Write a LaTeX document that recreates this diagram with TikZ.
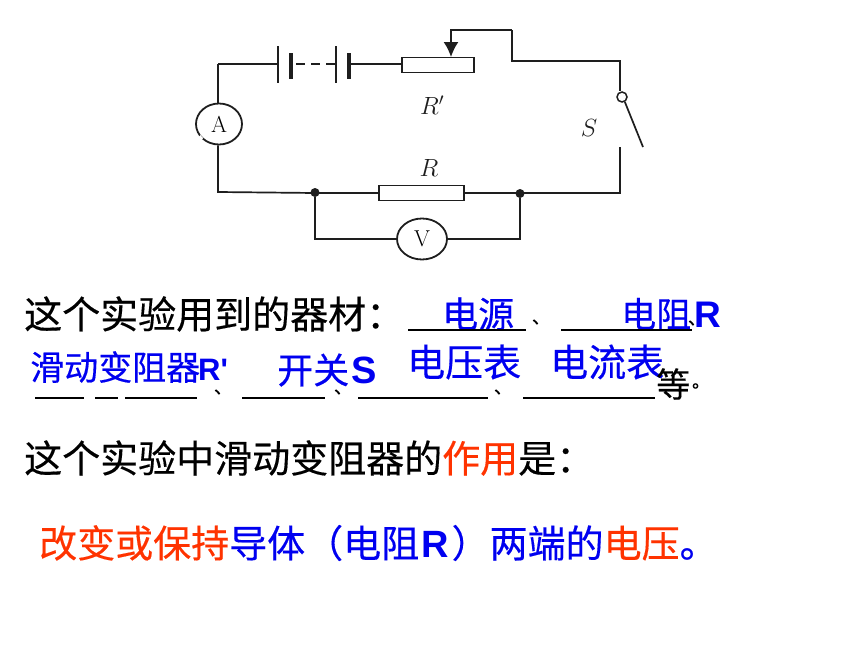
\documentclass[tikz,border=0pt]{standalone}
\usepackage{fontspec}
\newfontfamily\cjk[FakeBold=0.35]{Noto Sans CJK SC}
\newfontfamily\arl{Liberation Sans}
\definecolor{wire}{HTML}{1E1E1E}
\definecolor{bluetxt}{HTML}{0000F0}
\definecolor{redtxt}{HTML}{FF3300}
\newcommand{\fs}[1]{\fontsize{#1}{#1}\selectfont}
\usetikzlibrary{shapes.geometric,arrows.meta}
\tikzset{
  wireline/.style={draw=wire,line width=1.7pt},
  plate/.style={draw=wire,line width=1.4pt},
  thick plate/.style={draw=wire,line width=3.8pt},
  resbox/.style={draw=wire,line width=1.7pt,fill=white,minimum height=15pt,inner sep=0pt},
  meter/.style={draw=wire,line width=1.8pt,fill=white,ellipse,inner sep=0pt,font=\fs{23}},
  junction/.style={circle,fill=wire,draw=none,minimum size=9pt,inner sep=0pt},
  contact/.style={circle,fill=white,draw=wire,line width=1.5pt,minimum size=10pt,inner sep=0pt},
  clabel/.style={inner sep=0pt,font=\fs{26},text=wire},
  blk/.style={inner sep=0pt,anchor=west,font=\cjk\fs{38},text=black},
  blu/.style={inner sep=0pt,anchor=west,font=\cjk\fs{34},text=bluetxt},
  blank/.style={draw=black,line width=1.3pt},
  tick/.style={inner sep=0pt,font=\cjk\fs{18},text=black},
}
\begin{document}
\begin{tikzpicture}[x=1pt,y=-1pt]
\path[use as bounding box,fill=white] (0,0) rectangle (860,645);
% circuit
\node[meter,minimum width=46pt,minimum height=41pt] (A) at (219,124) {A};
\node[meter,minimum width=50pt,minimum height=41pt] (V) at (422,239) {V};
\node[resbox,minimum width=72pt] (Rp) at (438,65) {};
\node[resbox,minimum width=85pt] (Rf) at (421.5,193) {};
\node[junction] (J1) at (315,192.5) {};
\node[junction] (J2) at (520,193.5) {};
\node[contact] (K) at (622,97) {};
\coordinate (TL) at (218,64);
\coordinate (B1a) at (278,64);
\coordinate (B1t) at (278,46);
\coordinate (B1b) at (278,83);
\coordinate (B2t) at (291,53);
\coordinate (B2b) at (291,79);
\coordinate (D1) at (296,64);
\coordinate (D2) at (336,64);
\coordinate (B3t) at (336,46);
\coordinate (B3b) at (336,83);
\coordinate (B4t) at (349,53);
\coordinate (B4b) at (349,79);
\coordinate (B4m) at (349,64);
\coordinate (BL) at (218,192);
\coordinate (BR) at (620,193);
\coordinate (Kc) at (620,147);
\coordinate (Kb) at (643,147);
\coordinate (Ar) at (451,57);
\coordinate (T1) at (451,30);
\coordinate (T2) at (512,30);
\coordinate (T3) at (512,61);
\coordinate (T4) at (620,61);
\coordinate (Vl) at (315,239);
\coordinate (Vr) at (520,239);
\draw[wireline] (TL) -- (B1a);
\draw[wireline] (A.north -| TL) -- (TL);
\draw[plate] (B1t) -- (B1b);
\draw[thick plate] (B2t) -- (B2b);
\draw[wireline,dash pattern=on 9pt off 6pt] (D1) -- (D2);
\draw[plate] (B3t) -- (B3b);
\draw[thick plate] (B4t) -- (B4b);
\draw[wireline] (B4m) -- (B4m -| Rp.west);
\draw[wireline,-{Latex[length=15pt,width=15pt]}] (T2) -- (T1) -- (Ar);
\draw[wireline] (T2) -- (T3) -- (T4) -- (K.north -| T4);
\draw[wireline] (K.300) -- (Kb);
\draw[wireline] (Kc) -- (BR) -- (BR -| Rf.east);
\draw[wireline] (Rf.west) -- (Rf.west -| J1) -- (BL) -- (A.south -| BL);
\draw[wireline] (J1) -- (Vl) -- (V.west);
\draw[wireline] (J2) -- (Vr) -- (V.east);
\draw[white,line width=3pt] (A.212) -- (A.222);
\node[clabel] (Rpl) at (432,105) {$R'$};
\node[clabel] (Sl) at (589,128) {$S$};
\node[clabel] (Rl) at (429,168) {$R$};
% text row 1
\node[blk] (r1) at (24,314) {这个实验用到的器材：};
\node[blu,font=\cjk\fs{36}] (t1) at (442,314) {电源};
\node[blu,font=\cjk\fs{35}] (t2) at (621,314) {电阻\kern3pt{\arl\bfseries\fs{37}R}};
\coordinate (u1a) at (408,330); \coordinate (u1b) at (526,330);
\coordinate (u2a) at (561,330); \coordinate (u2b) at (692,330);
\draw[blank] (u1a) -- (u1b);
\draw[blank] (u2a) -- (u2b);
\node[tick] (c1) at (541,322) {、};
\node[tick] (c6) at (697,323) {、};
% text row 2
\node[blu] (t3) at (30,367) {滑动变阻器\kern-2pt{\arl\bfseries\fs{31}R'}};
\node[blu,font=\cjk\fs{36}] (t4) at (277,370) {开关\kern2pt{\arl\bfseries\fs{38}S}};
\node[blu,font=\cjk\fs{38}] (t5) at (407,362) {电压表};
\node[blu,font=\cjk\fs{38}] (t6) at (550,362) {电流表};
\node[blk,font=\cjk\fs{34}] (t7) at (656,384) {等};
\node[tick] (c5) at (701,386) {。};
\coordinate (a1) at (35,398); \coordinate (a2) at (84,398);
\coordinate (b1) at (95,398); \coordinate (b2) at (118,398);
\coordinate (c1a) at (125,398); \coordinate (c2a) at (197,398);
\coordinate (d1) at (242,398); \coordinate (d2) at (325,398);
\coordinate (e1) at (358,398); \coordinate (e2) at (488,398);
\coordinate (f1) at (523,398); \coordinate (f2) at (655,398);
\draw[blank] (a1) -- (a2);
\draw[blank] (b1) -- (b2);
\draw[blank] (c1a) -- (c2a);
\draw[blank] (d1) -- (d2);
\draw[blank] (e1) -- (e2);
\draw[blank] (f1) -- (f2);
\node[tick] (c2) at (223,392) {、};
\node[tick] (c3) at (343,392) {、};
\node[tick] (c4) at (503,392) {、};
% text row 3
\node[blk] (r3) at (24,458) {这个实验中滑动变阻器的\textcolor{redtxt}{作用}是：};
% text row 4
\node[blk,text=bluetxt] (r4) at (39,543) {\textcolor{redtxt}{改变或保持}导体（电阻\kern2pt{\arl\bfseries R}\kern3pt）两端的\textcolor{redtxt}{电压}。};
\end{tikzpicture}
\end{document}
